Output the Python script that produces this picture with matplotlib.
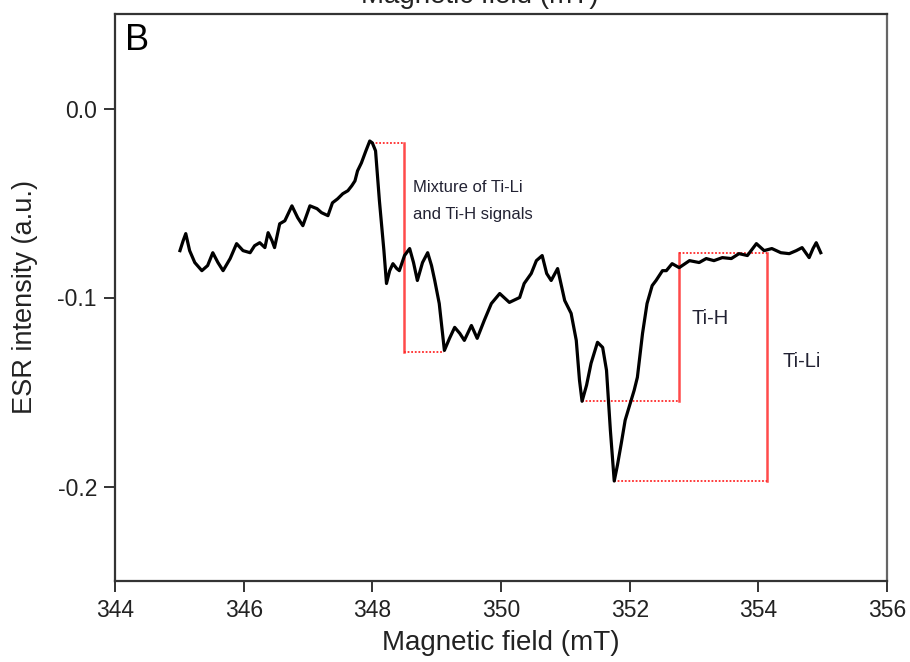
import matplotlib
matplotlib.use("Agg")
import matplotlib.pyplot as plt

plt.rcParams['font.family'] = ['Liberation Sans', 'DejaVu Sans']
plt.rcParams['axes.unicode_minus'] = False

# ESR trace (Magnetic field in mT, intensity in a.u.)
field = [345.01, 345.06, 345.10, 345.16, 345.24, 345.35, 345.44, 345.52, 345.60, 345.68,
         345.79, 345.89, 345.99, 346.10, 346.17, 346.25, 346.33, 346.38, 346.44, 346.48,
         346.56, 346.64, 346.75, 346.84, 346.92, 347.03, 347.14, 347.21, 347.31, 347.38,
         347.46, 347.54, 347.62, 347.68, 347.73, 347.77, 347.83, 347.90, 347.96, 348.00,
         348.05, 348.11, 348.18, 348.22, 348.27, 348.32, 348.38, 348.42, 348.50, 348.58,
         348.64, 348.70, 348.78, 348.86, 348.92, 348.97, 349.04, 349.12, 349.20, 349.28,
         349.36, 349.43, 349.54, 349.63, 349.74, 349.85, 349.98, 350.13, 350.29, 350.36,
         350.47, 350.55, 350.64, 350.71, 350.78, 350.88, 350.99, 351.09, 351.17, 351.22,
         351.26, 351.33, 351.40, 351.50, 351.58, 351.64, 351.70, 351.76, 351.81, 351.87,
         351.93, 351.99, 352.07, 352.12, 352.20, 352.27, 352.35, 352.41, 352.51, 352.57,
         352.66, 352.77, 352.93, 353.08, 353.19, 353.31, 353.44, 353.58, 353.70, 353.83,
         353.97, 354.09, 354.21, 354.35, 354.48, 354.59, 354.68, 354.79, 354.85, 354.90,
         354.97]
intensity = [-0.0752, -0.0699, -0.0662, -0.0752, -0.0815, -0.0858, -0.0831, -0.0763, -0.0815, -0.0858,
             -0.0794, -0.0715, -0.0752, -0.0763, -0.0726, -0.0710, -0.0736, -0.0657, -0.0699, -0.0736,
             -0.0610, -0.0594, -0.0515, -0.0578, -0.0620, -0.0515, -0.0530, -0.0551, -0.0567, -0.0499,
             -0.0478, -0.0451, -0.0435, -0.0409, -0.0383, -0.0330, -0.0288, -0.0224, -0.0172, -0.0182,
             -0.0224, -0.0488, -0.0752, -0.0926, -0.0858, -0.0821, -0.0847, -0.0858, -0.0778, -0.0741,
             -0.0815, -0.0910, -0.0815, -0.0763, -0.0831, -0.0910, -0.1032, -0.1280, -0.1216, -0.1158,
             -0.1190, -0.1227, -0.1148, -0.1216, -0.1121, -0.1032, -0.0979, -0.1026, -0.1000, -0.0926,
             -0.0873, -0.0805, -0.0778, -0.0873, -0.0910, -0.0847, -0.1016, -0.1084, -0.1227, -0.1438,
             -0.1549, -0.1464, -0.1348, -0.1237, -0.1264, -0.1385, -0.1702, -0.1971, -0.1887, -0.1771,
             -0.1649, -0.1581, -0.1491, -0.1422, -0.1190, -0.1032, -0.0937, -0.0910, -0.0858, -0.0858,
             -0.0821, -0.0842, -0.0805, -0.0815, -0.0794, -0.0805, -0.0789, -0.0794, -0.0768, -0.0778,
             -0.0715, -0.0752, -0.0741, -0.0763, -0.0768, -0.0752, -0.0736, -0.0789, -0.0741, -0.0710,
             -0.0763]

# Annotation brackets
mix_x = [348.0, 348.49, 349.12]     # start, vertical, end
mix_y = [-0.018, -0.129]            # top, bottom
tih_x = [351.26, 352.77]            # low-level start, vertical
tih_y = [-0.155, -0.0763]           # bottom, top
tili_x = [351.76, 354.14]           # low-level start, vertical
tili_y = [-0.197, -0.0763]          # bottom, top

xticks = [344, 346, 348, 350, 352, 354, 356]
yticks = [0.0, -0.1, -0.2]
yticklabels = ['0.0', '-0.1', '-0.2']

fig = plt.figure(figsize=(9.1, 6.62), dpi=100)
ax = fig.add_axes([115/910, 1 - 581/662, (887-115)/910, (581-14)/662])

red = '#ff2a2a'
dot = dict(color=red, lw=1.3, ls=(0, (1, 1)))
sol = dict(color=red, lw=1.8, alpha=0.85)

# Mixture bracket
ax.plot([mix_x[0], mix_x[1]], [mix_y[0], mix_y[0]], **dot)
ax.plot([mix_x[1], mix_x[1]], [mix_y[0], mix_y[1]], **sol)
ax.plot([mix_x[1], mix_x[2]], [mix_y[1], mix_y[1]], **dot)
# Ti-H bracket
ax.plot([tih_x[0], tih_x[1]], [tih_y[0], tih_y[0]], **dot)
ax.plot([tih_x[1], tih_x[1]], [tih_y[0], tih_y[1]], **sol)
ax.plot([tih_x[1], tili_x[1]], [tih_y[1], tih_y[1]], **dot)
# Ti-Li bracket
ax.plot([tili_x[0], tili_x[1]], [tili_y[0], tili_y[0]], **dot)
ax.plot([tili_x[1], tili_x[1]], [tili_y[0], tili_y[1]], **sol)

ax.plot(field, intensity, color='black', lw=2.3, solid_joinstyle='round', zorder=5)

txtc = '#222233'
ax.text(348.63, -0.042, 'Mixture of Ti-Li', fontsize=12, color=txtc, va='center', ha='left')
ax.text(348.63, -0.056, 'and Ti-H signals', fontsize=12, color=txtc, va='center', ha='left')
ax.text(352.96, -0.111, 'Ti-H', fontsize=14.5, color=txtc, va='center', ha='left')
ax.text(354.37, -0.134, 'Ti-Li', fontsize=14.5, color=txtc, va='center', ha='left')

ax.text(0.013, 0.985, 'B', transform=ax.transAxes, fontsize=26, va='top', ha='left')

ax.set_xlim(344, 356)
ax.set_ylim(-0.25, 0.05)
ax.set_xticks(xticks)
ax.set_xticklabels([str(t) for t in xticks])
ax.set_yticks(yticks)
ax.set_yticklabels(yticklabels)
ax.tick_params(axis='both', direction='out', length=8, width=1.4, colors='#333333',
               labelsize=16.5, labelcolor='#222222', pad=5)
for s in ax.spines.values():
    s.set_linewidth(1.6)
    s.set_color('#333333')
ax.spines['right'].set_color('#666666')

ax.set_xlabel('Magnetic field (mT)', fontsize=20, color='#222222', labelpad=6)
ax.set_ylabel('ESR intensity (a.u.)', fontsize=19.5, color='#222222', labelpad=14)

# cut-off label from the panel above (only its lower part is visible in the reference)
fig.text(0.527, 1 - 3/662, 'Magnetic field (mT)', fontsize=20, color='#222222',
         ha='center', va='baseline')

fig.savefig('out.png', dpi=100)
